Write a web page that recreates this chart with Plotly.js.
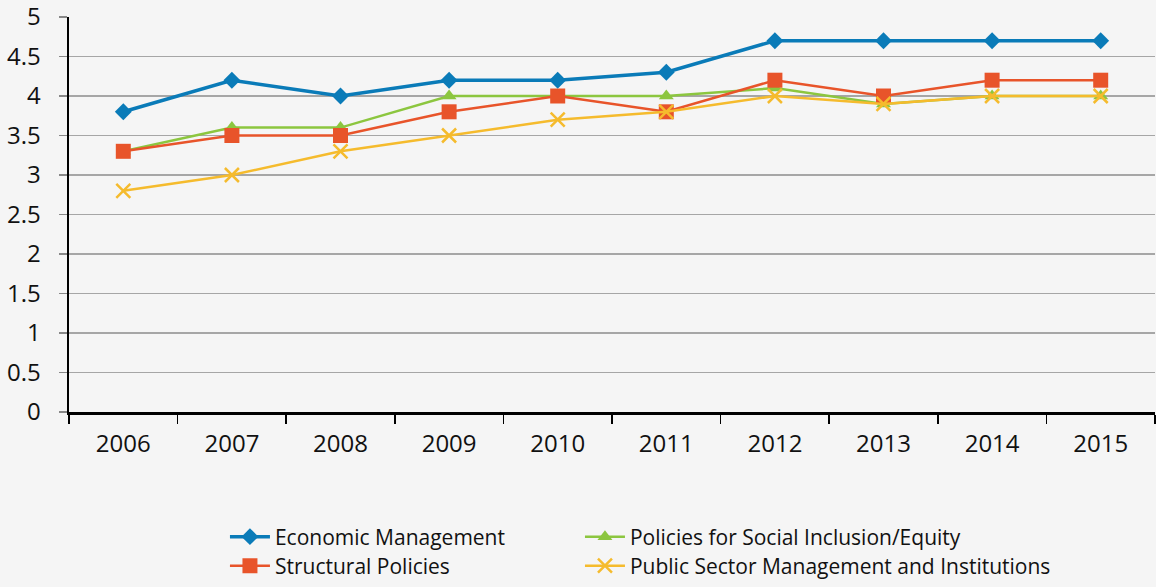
<!DOCTYPE html>
<html>
<head>
<meta charset="utf-8">
<script src="https://cdn.plot.ly/plotly-3.0.1.min.js"></script>
<style>html,body{margin:0;padding:0;background:#f5f5f5;}#chart{width:1156px;height:587px;}</style>
</head>
<body>
<div id="chart"></div>
<script>
const years = ["2006","2007","2008","2009","2010","2011","2012","2013","2014","2015"];
const economicManagement = [3.8, 4.2, 4.0, 4.2, 4.2, 4.3, 4.7, 4.7, 4.7, 4.7];
const socialInclusion = [3.3, 3.6, 3.6, 4.0, 4.0, 4.0, 4.1, 3.9, 4.0, 4.0];
const structuralPolicies = [3.3, 3.5, 3.5, 3.8, 4.0, 3.8, 4.2, 4.0, 4.2, 4.2];
const publicSector = [2.8, 3.0, 3.3, 3.5, 3.7, 3.8, 4.0, 3.9, 4.0, 4.0];
const seriesNames = ["Economic Management", "Policies for Social Inclusion/Equity", "Structural Policies", "Public Sector Management and Institutions"];
const yTicks = [0, 0.5, 1, 1.5, 2, 2.5, 3, 3.5, 4, 4.5, 5];

const FONT = "'Open Sans', Lato, sans-serif";
const traces = [
  {x: years, y: economicManagement, name: seriesNames[0], mode: "lines+markers", legend: "legend",
   line: {color: "#0a7bb8", width: 3.5}, marker: {symbol: "diamond", size: 13, color: "#0a7bb8"}},
  {x: years, y: socialInclusion, name: seriesNames[1], mode: "lines+markers", legend: "legend2",
   line: {color: "#8cc63f", width: 2.5}, marker: {symbol: "triangle-up", size: 13, color: "#8cc63f"}},
  {x: years, y: structuralPolicies, name: seriesNames[2], mode: "lines+markers", legend: "legend3",
   line: {color: "#e8542a", width: 2.5}, marker: {symbol: "square", size: 15, color: "#e8542a"}},
  {x: years, y: publicSector, name: seriesNames[3], mode: "lines+markers", legend: "legend4",
   line: {color: "#f5bb2d", width: 2.5}, marker: {symbol: "x-thin-open", size: 14, color: "#f5bb2d", line: {width: 2.5, color: "#f5bb2d"}}}
];

const legendCommon = {orientation: "v", xanchor: "left", yanchor: "middle",
  bgcolor: "rgba(0,0,0,0)", font: {family: FONT, size: 21, color: "#111"}, itemwidth: 40};

const layout = {
  width: 1156, height: 587,
  paper_bgcolor: "#f5f5f5", plot_bgcolor: "#f5f5f5",
  margin: {l: 69, r: 1, t: 17, b: 175},
  font: {family: FONT, size: 20, color: "#111"},
  xaxis: {type: "category", range: [-0.5, 9.5], tickson: "boundaries", ticks: "outside", ticklen: 9, tickwidth: 1.5,
    tickcolor: "#000", showline: true, linecolor: "#000", linewidth: 2.5, showgrid: false, zeroline: false,
    tickfont: {family: FONT, size: 24, color: "#111"}, ticklabelstandoff: 9, tickangle: 0, automargin: false,
    ticklabeloverflow: "allow"},
  yaxis: {range: [0, 5], tickvals: yTicks, ticktext: yTicks.map(String), ticks: "outside", ticklen: 8, tickwidth: 1.5,
    tickcolor: "#888", showline: true, linecolor: "#000", linewidth: 2.5, showgrid: true, gridcolor: "#a6a6a6",
    gridwidth: 1.5, zeroline: false, tickfont: {family: FONT, size: 24, color: "#111"}, ticklabelstandoff: 13, automargin: false,
    ticklabeloverflow: "allow"},
  showlegend: true,
  legend: Object.assign({}, legendCommon, {x: 0.1436, y: -0.3165}),
  legend2: Object.assign({}, legendCommon, {x: 0.4705, y: -0.3165}),
  legend3: Object.assign({}, legendCommon, {x: 0.1436, y: -0.442, yanchor: "bottom"}),
  legend4: Object.assign({}, legendCommon, {x: 0.4705, y: -0.442, yanchor: "bottom"})
};

Plotly.newPlot("chart", traces, layout, {displayModeBar: false, staticPlot: true});
</script>
</body>
</html>
